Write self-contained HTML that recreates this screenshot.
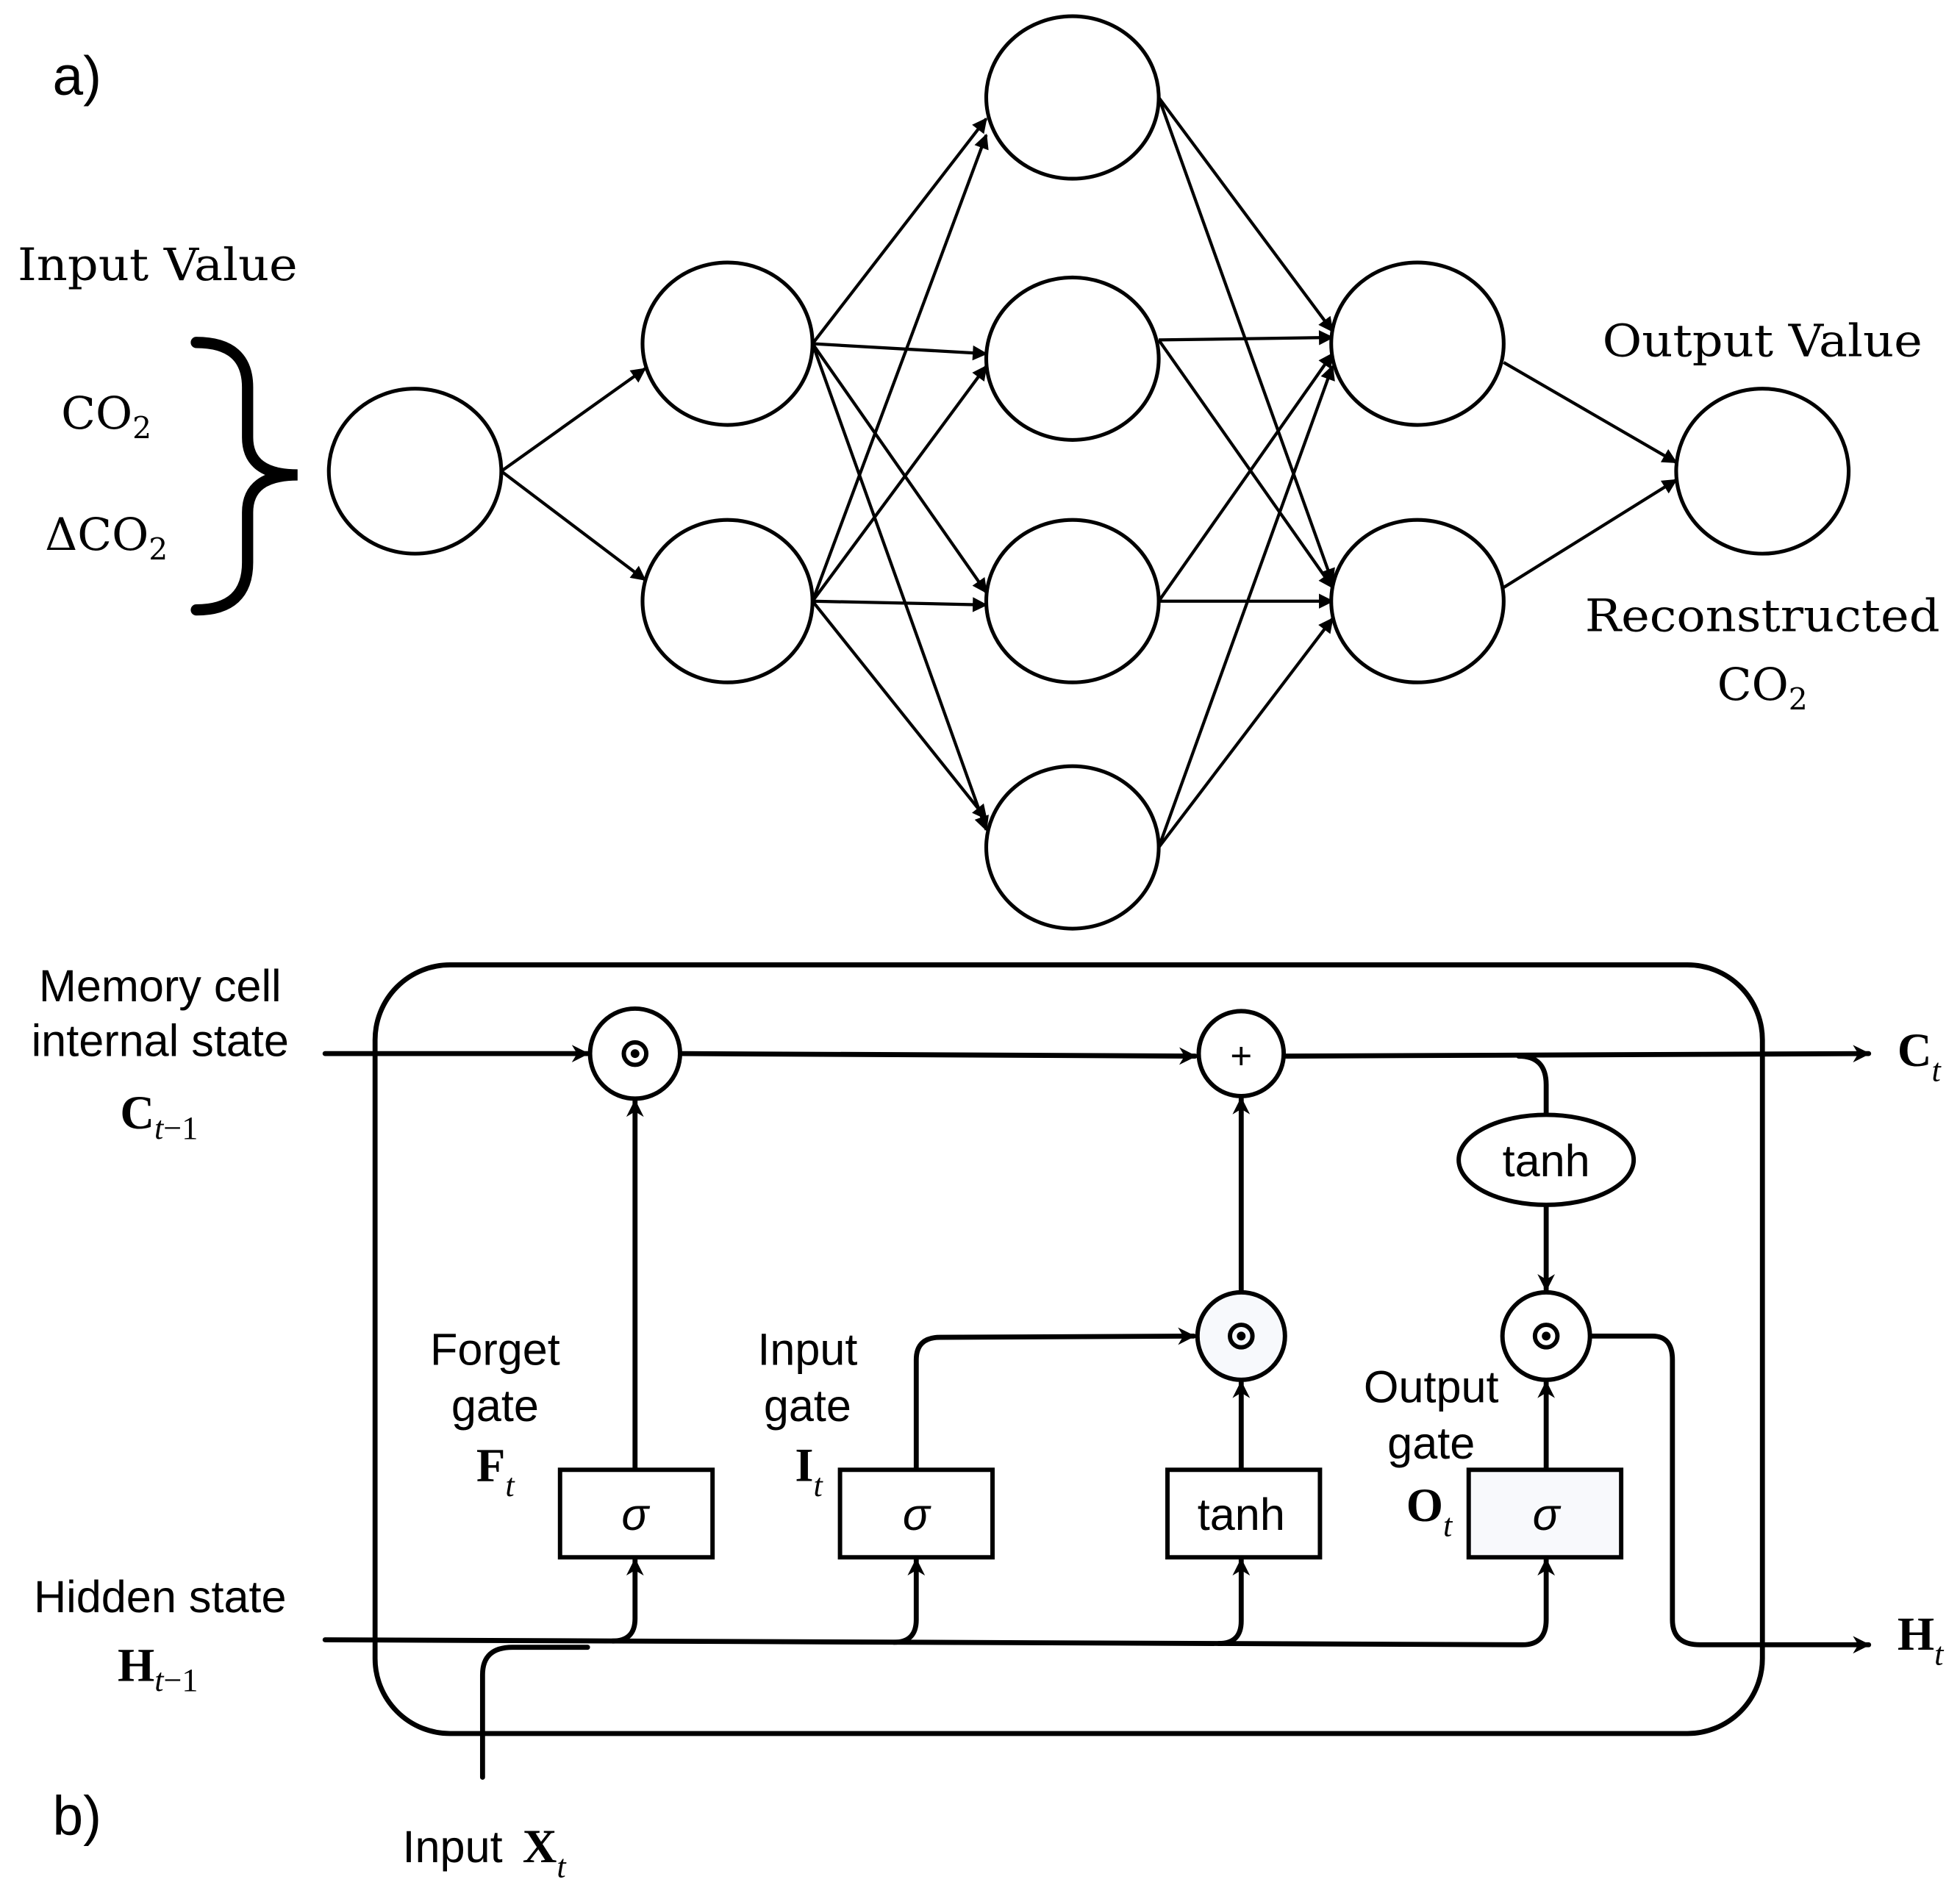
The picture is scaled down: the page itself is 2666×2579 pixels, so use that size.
<!DOCTYPE html>
<html><head><meta charset="utf-8"><style>html,body{margin:0;padding:0;background:#fff}svg{display:block}</style></head>
<body>
<svg width="2666" height="2579" viewBox="0 0 1568 1517" xmlns="http://www.w3.org/2000/svg">
<defs>
<marker id="a" viewBox="0 0 10 10" refX="9" refY="5" markerWidth="14" markerHeight="12" orient="auto" markerUnits="userSpaceOnUse"><path d="M0,0 L10,5 L0,10 Z" fill="#000"/></marker>
<marker id="b" viewBox="0 0 10 10" refX="9" refY="5" markerWidth="20" markerHeight="14" orient="auto" markerUnits="userSpaceOnUse"><path d="M0,0 L10,5 L0,10 L3,5 Z" fill="#000"/></marker>
</defs>
<g fill="none" stroke="#000" stroke-width="2.5" marker-end="url(#a)">
<line x1="401" y1="377" x2="516" y2="295"/>
<line x1="401" y1="377" x2="516" y2="464"/>
<line x1="650" y1="275" x2="789" y2="95"/>
<line x1="650" y1="275" x2="789" y2="283"/>
<line x1="650" y1="275" x2="789" y2="474"/>
<line x1="650" y1="275" x2="789" y2="664"/>
<line x1="650" y1="481" x2="789" y2="108"/>
<line x1="650" y1="481" x2="789" y2="293"/>
<line x1="650" y1="481" x2="789" y2="484"/>
<line x1="650" y1="481" x2="789" y2="655"/>
<line x1="927" y1="78" x2="1066" y2="265"/>
<line x1="927" y1="78" x2="1066" y2="466"/>
<line x1="927" y1="272" x2="1066" y2="270"/>
<line x1="927" y1="272" x2="1066" y2="470"/>
<line x1="927" y1="481" x2="1066" y2="283"/>
<line x1="927" y1="481" x2="1066" y2="481"/>
<line x1="927" y1="678" x2="1066" y2="293"/>
<line x1="927" y1="678" x2="1066" y2="495"/>
<line x1="1203" y1="290" x2="1341" y2="370"/>
<line x1="1203" y1="470" x2="1341" y2="384"/>
</g>
<g fill="#fff" stroke="#000" stroke-width="3">
<ellipse cx="332" cy="377" rx="69" ry="66"/>
<ellipse cx="582" cy="275" rx="68" ry="65"/>
<ellipse cx="582" cy="481" rx="68" ry="65"/>
<ellipse cx="858" cy="78" rx="69" ry="65"/>
<ellipse cx="858" cy="287" rx="69" ry="65"/>
<ellipse cx="858" cy="481" rx="69" ry="65"/>
<ellipse cx="858" cy="678" rx="69" ry="65"/>
<ellipse cx="1134" cy="275" rx="69" ry="65"/>
<ellipse cx="1134" cy="481" rx="69" ry="65"/>
<ellipse cx="1410" cy="377" rx="69" ry="66"/>
</g>
<path d="M157,274 Q198,274 198,310 L198,350 Q198,380 238,380 Q198,380 198,410 L198,450 Q198,488 157,488" fill="none" stroke="#000" stroke-width="9" stroke-linecap="round"/>
<g font-family="Liberation Sans, sans-serif" font-size="44"><text x="42" y="76">a)</text><text x="42" y="1468">b)</text></g>
<g font-family="DejaVu Serif, Liberation Serif, serif" font-size="36" text-anchor="middle">
<text x="126" y="224" textLength="224" lengthAdjust="spacingAndGlyphs">Input Value</text>
<text x="85" y="343">CO<tspan font-size="24" dy="8">2</tspan></text>
<text x="85" y="440">ΔCO<tspan font-size="24" dy="8">2</tspan></text>
<text x="1410" y="285" textLength="256" lengthAdjust="spacingAndGlyphs">Output Value</text>
<text x="1410" y="505" textLength="284" lengthAdjust="spacingAndGlyphs">Reconstructed</text>
<text x="1410" y="560">CO<tspan font-size="24" dy="8">2</tspan></text>
</g>
<rect x="300" y="772" width="1110" height="615" rx="60" fill="none" stroke="#000" stroke-width="4"/>
<g fill="none" stroke="#000" stroke-width="4" stroke-linecap="round">
<line x1="260" y1="843" x2="470" y2="843" marker-end="url(#b)"/>
<line x1="545" y1="843" x2="956" y2="845" marker-end="url(#b)"/>
<line x1="1029" y1="845" x2="1495" y2="843" marker-end="url(#b)"/>
<path d="M1215,845 Q1237,845 1237,868 L1237,892"/>
<path d="M1237,964 L1237,1032" marker-end="url(#b)"/>
<path d="M508,1176 L508,881" marker-end="url(#b)"/>
<path d="M733,1176 L733,1088 Q733,1070 752,1070 L955,1069" marker-end="url(#b)"/>
<path d="M993,1176 L993,1106" marker-end="url(#b)"/>
<path d="M993,1034 L993,879" marker-end="url(#b)"/>
<path d="M1237,1176 L1237,1106" marker-end="url(#b)"/>
<path d="M1273,1069 L1322,1069 Q1338,1069 1338,1088 L1338,1296 Q1338,1316 1360,1316 L1495,1316" marker-end="url(#b)"/>
<path d="M260,1312 L1218,1316 Q1237,1316 1237,1296 L1237,1248" marker-end="url(#b)"/>
<path d="M490,1313 Q508,1313 508,1295 L508,1248" marker-end="url(#b)"/>
<path d="M715,1314 Q733,1314 733,1296 L733,1248" marker-end="url(#b)"/>
<path d="M975,1315 Q993,1315 993,1297 L993,1248" marker-end="url(#b)"/>
<path d="M386,1422 L386,1340 Q386,1318 410,1318 L470,1318"/>
</g>
<g stroke="#000" stroke-width="3.5">
<circle cx="508" cy="843" r="36" fill="#fff"/>
<circle cx="993" cy="843" r="34" fill="#fff"/>
<circle cx="993" cy="1069" r="35" fill="#f7f9fc"/>
<circle cx="1237" cy="1069" r="35" fill="#fff"/>
<ellipse cx="1237" cy="928" rx="70" ry="36" fill="#fff"/>
<rect x="448" y="1176" width="122" height="70" fill="#fff"/>
<rect x="672" y="1176" width="122" height="70" fill="#fff"/>
<rect x="934" y="1176" width="122" height="70" fill="#fff"/>
<rect x="1175" y="1176" width="122" height="70" fill="#f8f9fc"/>
</g>
<g fill="#000"><circle cx="508" cy="843" r="9" fill="none" stroke="#000" stroke-width="3.5"/><circle cx="508" cy="843" r="3.5"/>
<circle cx="993" cy="1069" r="9" fill="none" stroke="#000" stroke-width="3.5"/><circle cx="993" cy="1069" r="3.5"/>
<circle cx="1237" cy="1069" r="9" fill="none" stroke="#000" stroke-width="3.5"/><circle cx="1237" cy="1069" r="3.5"/></g>
<g font-family="Liberation Sans, sans-serif" font-size="36" text-anchor="middle">
<text x="993" y="855" font-size="30">+</text>
<text x="1237" y="941">tanh</text>
<text x="993" y="1224">tanh</text>
<text x="508" y="1224" font-style="italic">σ</text>
<text x="733" y="1224" font-style="italic">σ</text>
<text x="1237" y="1224" font-style="italic">σ</text>
<text x="128" y="801">Memory cell</text>
<text x="128" y="845">internal state</text>
<text x="128" y="1290">Hidden state</text>
<text x="396" y="1092">Forget</text><text x="396" y="1137">gate</text>
<text x="646" y="1092">Input</text><text x="646" y="1137">gate</text>
<text x="1145" y="1122">Output</text><text x="1145" y="1167">gate</text>
<text x="362" y="1490">Input</text>
</g>
<g font-family="Liberation Serif, serif" font-size="38" font-weight="bold">
<text x="96" y="903">C<tspan font-size="26" font-style="italic" font-weight="normal" dy="8">t</tspan><tspan font-size="26" font-weight="normal">−1</tspan></text>
<text x="94" y="1345">H<tspan font-size="26" font-style="italic" font-weight="normal" dy="8">t</tspan><tspan font-size="26" font-weight="normal">−1</tspan></text>
<text x="381" y="1185">F<tspan font-size="26" font-style="italic" font-weight="normal" dy="12">t</tspan></text>
<text x="636" y="1185">I<tspan font-size="26" font-style="italic" font-weight="normal" dy="12">t</tspan></text>
<text x="1125" y="1217">O<tspan font-size="26" font-style="italic" font-weight="normal" dy="12">t</tspan></text>
<text x="1518" y="853">C<tspan font-size="26" font-style="italic" font-weight="normal" dy="12">t</tspan></text>
<text x="1518" y="1320">H<tspan font-size="26" font-style="italic" font-weight="normal" dy="12">t</tspan></text>
<text x="418" y="1490">X<tspan font-size="26" font-style="italic" font-weight="normal" dy="12">t</tspan></text>
</g>
</svg>
</body></html>
